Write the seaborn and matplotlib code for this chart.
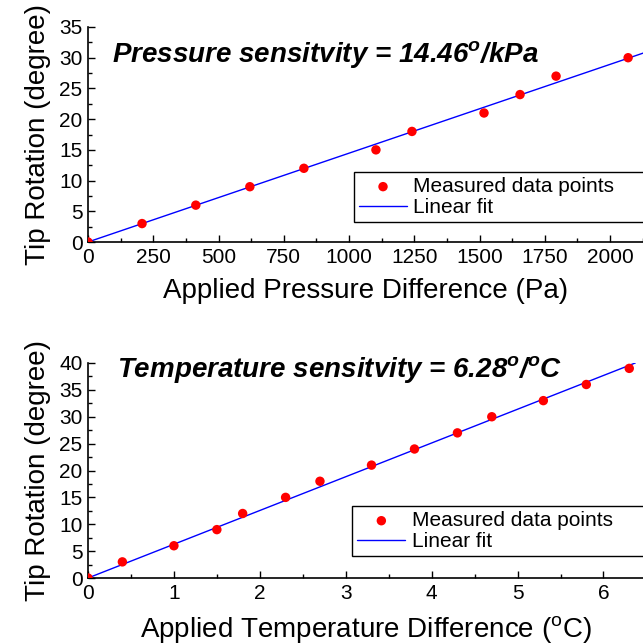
import numpy as np
import pandas as pd
import matplotlib
matplotlib.use('Agg')
import matplotlib.pyplot as plt
from matplotlib.ticker import MultipleLocator
import seaborn as sns

# ---- data ----
pressure_pa = [0, 207, 413, 620, 827, 1103, 1241, 1517, 1655, 1793, 2069]
pressure_rot = [0, 3, 6, 9, 12, 15, 18, 21, 24, 27, 30]
pressure_slope = 14.46 / 1000.0      # deg per Pa
pressure_fit_range = [0, 2130]

temp_c = [0, 0.4, 1.0, 1.5, 1.8, 2.3, 2.7, 3.3, 3.8, 4.3, 4.7, 5.3, 5.8, 6.3]
temp_rot = [0, 3, 6, 9, 12, 15, 18, 21, 24, 27, 30, 33, 36, 39]
temp_slope = 6.28                    # deg per degC
temp_fit_range = [0, 6.37]

sns.set_style('ticks', {'text.color': 'black', 'axes.labelcolor': 'black',
                        'xtick.color': 'black', 'ytick.color': 'black',
                        'axes.edgecolor': 'black'})
plt.rcParams['font.family'] = ['Liberation Sans', 'DejaVu Sans']
plt.rcParams['mathtext.fontset'] = 'custom'
plt.rcParams['mathtext.rm'] = 'Liberation Sans'
plt.rcParams['mathtext.it'] = 'Liberation Sans:italic:bold'
plt.rcParams['mathtext.bf'] = 'Liberation Sans:bold'
plt.rcParams['legend.labelcolor'] = 'black'

TICK_FS = 15
LABEL_FS = 20
NOTE_FS = 20
LEG_FS = 15


def panel(ax, x, y, slope, fit_range, xlim, ylim, xmaj, ymaj, xlabel, note, note_xy, leg_anchor):
    df = pd.DataFrame({'x': x, 'y': y})
    fit = pd.DataFrame({'x': fit_range})
    fit['y'] = fit['x'] * slope

    sns.scatterplot(data=df, x='x', y='y', ax=ax, color='#ff0000', s=46,
                    edgecolor='none', label='Measured data points', zorder=3)
    sns.lineplot(data=fit, x='x', y='y', ax=ax, color='#0000ff', lw=1.0,
                 label='Linear fit', zorder=2)

    ax.set_xlim(*xlim)
    ax.set_ylim(*ylim)
    ax.xaxis.set_major_locator(MultipleLocator(xmaj))
    ax.xaxis.set_minor_locator(MultipleLocator(xmaj / 2))
    ax.yaxis.set_major_locator(MultipleLocator(ymaj))
    ax.yaxis.set_minor_locator(MultipleLocator(ymaj / 2))
    ax.tick_params(which='major', direction='in', length=5, width=1,
                   labelsize=TICK_FS, pad=4, color='black', labelcolor='black')
    ax.tick_params(which='minor', direction='in', length=3, width=1, color='black')

    for s in ['top', 'right']:
        ax.spines[s].set_visible(False)
    for s in ['left', 'bottom']:
        ax.spines[s].set_linewidth(1.2)
        ax.spines[s].set_color('black')

    ax.set_xlabel(xlabel, fontsize=LABEL_FS, labelpad=8, color='black')
    ax.set_ylabel('Tip Rotation (degree)', fontsize=LABEL_FS, labelpad=6, color='black')

    ax.text(note_xy[0], note_xy[1], note, transform=ax.transAxes,
            fontsize=NOTE_FS, fontweight='bold', fontstyle='italic',
            ha='left', va='baseline', color='black')

    leg = ax.legend(loc='upper left', bbox_to_anchor=leg_anchor, mode='expand',
                    borderaxespad=0, fontsize=LEG_FS, frameon=True, fancybox=False,
                    handlelength=2.3, handletextpad=0.3, labelspacing=0.1,
                    borderpad=0.25)
    leg.get_frame().set_edgecolor('black')
    leg.get_frame().set_linewidth(1.0)
    leg.get_frame().set_alpha(1)


fig = plt.figure(figsize=(6.43, 6.44), dpi=100)
ax1 = fig.add_axes([88 / 643, 1 - 242 / 644, 555 / 643, 215 / 644])
ax2 = fig.add_axes([88 / 643, 1 - 578 / 644, 555 / 643, 215 / 644])

panel(ax1, pressure_pa, pressure_rot, pressure_slope, pressure_fit_range,
      (0, 2126), (0, 35), 250, 5,
      'Applied Pressure Difference (Pa)',
      'Pressure sensitvity = 14.46$^{o}$/kPa', (0.043, 0.837),
      (0.479, 0.0, 0.6, 0.326))

panel(ax2, temp_c, temp_rot, temp_slope, temp_fit_range,
      (0, 6.46), (0, 40), 1, 5,
      'Applied Temperature Difference ($^\\mathrm{o}$C)',
      'Temperature sensitvity = 6.28$^{o}$/$^{o}$C', (0.052, 0.935),
      (0.476, 0.0, 0.6, 0.335))

fig.savefig('out.png', dpi=100)
